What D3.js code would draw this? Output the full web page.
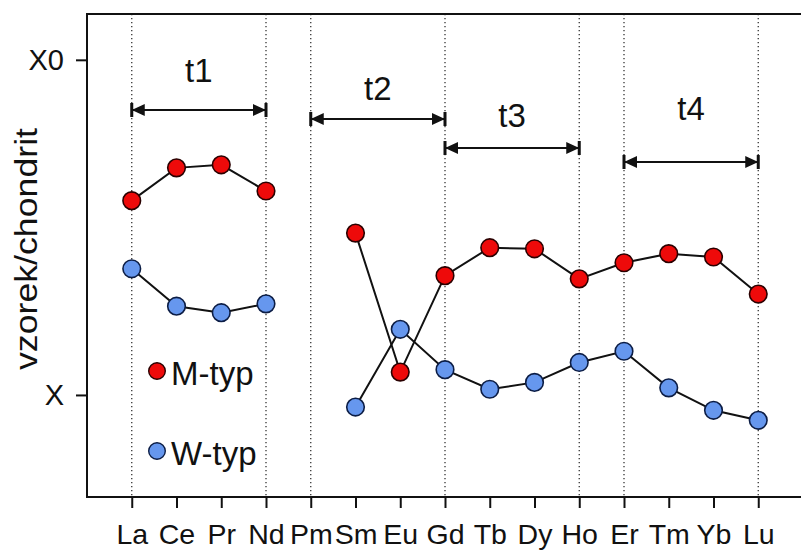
<!DOCTYPE html>
<html>
<head>
<meta charset="utf-8">
<script src="https://cdn.jsdelivr.net/npm/d3@7"></script>
<style>
  body { margin: 0; background: #fff; }
  text { font-family: "Liberation Sans", Arial, sans-serif; fill: #111; }
</style>
</head>
<body>
<script>
// REE diagram: vzorek/chondrit, M-typ vs W-typ

let elements = ['La', 'Ce', 'Pr', 'Nd', 'Pm', 'Sm', 'Eu', 'Gd', 'Tb', 'Dy', 'Ho', 'Er', 'Tm', 'Yb', 'Lu']
let mTyp = [3.80, 4.76, 4.86, 4.06, null, 3.04, 1.17, 2.27, 2.75, 2.73, 2.22, 2.48, 2.64, 2.58, 2.00]
let wTyp = [2.38, 1.84, 1.76, 1.87, null, 0.92, 1.57, 1.19, 1.04, 1.09, 1.25, 1.35, 1.05, 0.90, 0.84]
let yTickValues = [1, 10]
let yTickLabels = ['X', 'X0']
let guideElements = ['La', 'Nd', 'Pm', 'Gd', 'Ho', 'Er', 'Lu']
let ranges = [
  {name: 't1', from: 'La', to: 'Nd'},
  {name: 't2', from: 'Pm', to: 'Gd'},
  {name: 't3', from: 'Gd', to: 'Ho'},
  {name: 't4', from: 'Er', to: 'Lu'}
]
let seriesNames = ['M-typ', 'W-typ']

// layout
let chartW = 801
let chartH = 551
let mLeft = 87, mTop = 14, mBottom = 497, mRight = 803
let bracketY = [110, 119, 148, 162]
let labelY = [82, 100, 127, 120]
let colors = {'M-typ': '#ee0a0a', 'W-typ': '#6697ee'}
let strokes = {'M-typ': '#2a0000', 'W-typ': '#0c1d45'}

let x = d3.scalePoint().domain(elements).range([mLeft, mRight]).padding(1)
let y = d3.scaleLog().domain([0.496, 13.7]).range([mBottom, mTop])

let svg = d3.select('body').append('svg')
  .attr('width', chartW)
  .attr('height', chartH)

// svislé tečkované čáry
svg.selectAll('.guide')
  .data(guideElements)
  .enter().append('line')
  .attr('x1', d => x(d)).attr('x2', d => x(d))
  .attr('y1', mTop).attr('y2', mBottom)
  .style('stroke', '#333')
  .style('stroke-width', 1.3)
  .style('stroke-dasharray', '1.3,2.7')

// rámeček
svg.append('rect')
  .attr('x', mLeft).attr('y', mTop)
  .attr('width', mRight - mLeft).attr('height', mBottom - mTop)
  .style('fill', 'none')
  .style('stroke', '#111')
  .style('stroke-width', 2)

// osy
let xAxis = svg.append('g')
  .attr('transform', 'translate(0,' + mBottom + ')')
  .call(d3.axisBottom(x).tickSize(11).tickSizeOuter(0).tickPadding(16))
xAxis.select('.domain').remove()
xAxis.selectAll('line').style('stroke', '#111').style('stroke-width', 2)
xAxis.selectAll('text')
  .attr('dy', '0.71em')
  .style('font-size', '28.5px')
  .style('font-family', '"Liberation Sans", Arial, sans-serif')
  .style('fill', '#111')

let yAxis = svg.append('g')
  .attr('transform', 'translate(' + mLeft + ',0)')
  .call(d3.axisLeft(y).tickValues(yTickValues)
    .tickFormat((d, i) => yTickLabels[i]).tickSize(11).tickPadding(12))
yAxis.select('.domain').remove()
yAxis.selectAll('line').style('stroke', '#111').style('stroke-width', 2)
yAxis.selectAll('text')
  .style('font-size', '29px')
  .style('font-family', '"Liberation Sans", Arial, sans-serif')
  .style('fill', '#111')

svg.append('text')
  .attr('transform', 'translate(37,249) rotate(-90)')
  .attr('text-anchor', 'middle')
  .attr('textLength', 242)
  .attr('lengthAdjust', 'spacingAndGlyphs')
  .style('font-size', '31px')
  .text('vzorek/chondrit')

// šipky t1..t4
let arrows = svg.selectAll('.range')
  .data(ranges)
  .enter().append('g')
arrows.append('line')
  .attr('x1', d => x(d.from)).attr('x2', d => x(d.to))
  .attr('y1', (d, i) => bracketY[i]).attr('y2', (d, i) => bracketY[i])
  .style('stroke', '#111').style('stroke-width', 1.8)
arrows.append('path')
  .attr('d', function (d, i) {
    let a = x(d.from), b = x(d.to), yy = bracketY[i]
    return 'M' + a + ',' + yy + 'L' + (a + 13) + ',' + (yy - 6) + 'L' + (a + 13) + ',' + (yy + 6) + 'Z' +
      'M' + b + ',' + yy + 'L' + (b - 13) + ',' + (yy - 6) + 'L' + (b - 13) + ',' + (yy + 6) + 'Z'
  })
  .style('fill', '#111')
arrows.append('path')
  .attr('d', function (d, i) {
    let a = x(d.from), b = x(d.to), yy = bracketY[i]
    return 'M' + a + ',' + (yy - 7) + 'V' + (yy + 7) + 'M' + b + ',' + (yy - 7) + 'V' + (yy + 7)
  })
  .style('stroke', '#111').style('stroke-width', 3)
arrows.append('text')
  .attr('x', d => (x(d.from) + x(d.to)) / 2)
  .attr('y', (d, i) => labelY[i])
  .attr('text-anchor', 'middle')
  .style('font-size', '33px')
  .text(d => d.name)

// čáry a body
let line = d3.line()
  .defined(d => d.v !== null)
  .x(d => x(d.el))
  .y(d => y(d.v))

let series = [mTyp, wTyp].map((vals, k) => ({
  name: seriesNames[k],
  points: vals.map((v, i) => ({el: elements[i], v: v}))
}))

series.forEach(function (s) {
  svg.append('path')
    .datum(s.points)
    .attr('d', line)
    .style('fill', 'none')
    .style('stroke', '#111')
    .style('stroke-width', 2)
})
series.forEach(function (s) {
  svg.selectAll('.pt-' + s.name)
    .data(s.points.filter(d => d.v !== null))
    .enter().append('circle')
    .attr('cx', d => x(d.el))
    .attr('cy', d => y(d.v))
    .attr('r', 8.8)
    .style('fill', colors[s.name])
    .style('stroke', strokes[s.name])
    .style('stroke-width', 1.6)
})

// legenda
let legend = svg.selectAll('.legend')
  .data(seriesNames)
  .enter().append('g')
  .attr('transform', (d, i) => 'translate(157,' + (371 + i * 80) + ')')
legend.append('circle')
  .attr('r', 8.3)
  .style('fill', d => colors[d])
  .style('stroke', d => strokes[d])
  .style('stroke-width', 1.4)
legend.append('text')
  .attr('x', 14)
  .attr('y', 14)
  .style('font-size', '33px')
  .text(d => d)
</script>
</body>
</html>
